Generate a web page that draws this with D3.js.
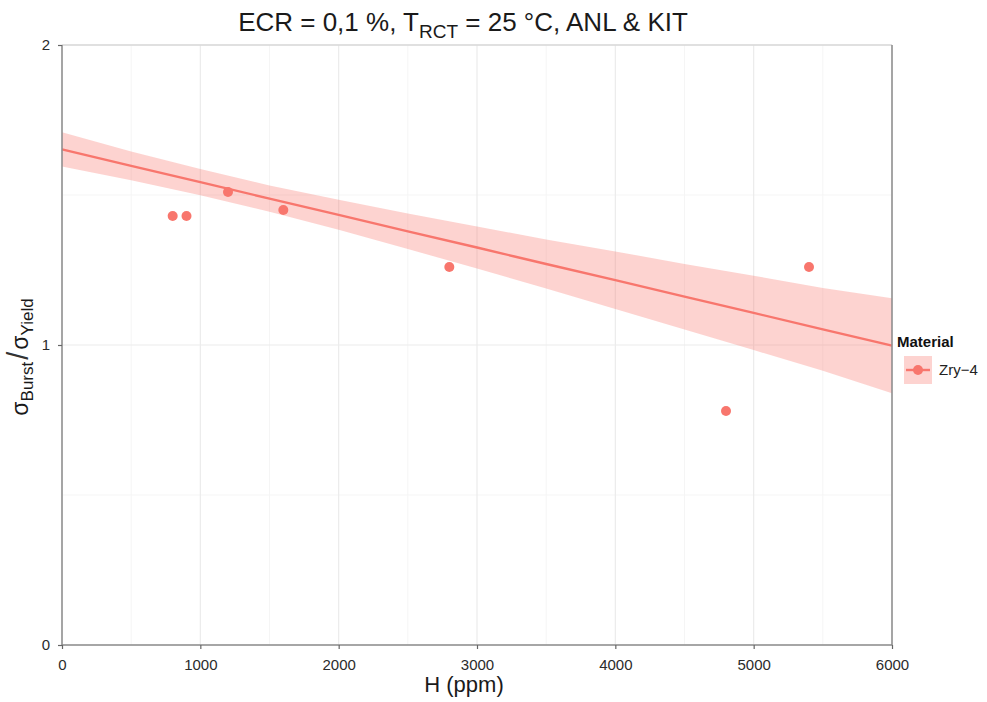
<!DOCTYPE html>
<html>
<head>
<meta charset="utf-8">
<script src="https://cdn.jsdelivr.net/npm/d3@7"></script>
<style>
  body { margin: 0; background: #fff; }
  svg { font-family: "Liberation Sans", Arial, sans-serif; }
</style>
</head>
<body>
<svg id="chart" width="987" height="702"></svg>
<script>
// measured points
const hydrogen = [800, 900, 1200, 1600, 2800, 4800, 5400];
const ratio = [1.43, 1.43, 1.51, 1.45, 1.26, 0.78, 1.26];

// smoother (fit + confidence band)
const bandX = [0, 500, 1000, 1500, 2000, 2500, 3000, 3500, 4000, 4500, 5000, 5500, 6000];
const fitY = [1.652, 1.597, 1.543, 1.488, 1.434, 1.379, 1.325, 1.270, 1.216, 1.161, 1.107, 1.052, 0.998];
const bandLow = [1.595, 1.549, 1.499, 1.444, 1.384, 1.320, 1.255, 1.188, 1.120, 1.052, 0.983, 0.914, 0.839];
const bandHigh = [1.709, 1.645, 1.587, 1.532, 1.484, 1.438, 1.395, 1.352, 1.312, 1.270, 1.231, 1.190, 1.156];

const xTicks = [0, 1000, 2000, 3000, 4000, 5000, 6000];
const xMinor = [500, 1500, 2500, 3500, 4500, 5500];
const yTicks = [0, 1, 2];
const yMinor = [0.5, 1.5];

const col = "#F8766D";
const svg = d3.select("#chart");
const pLeft = 62, pRight = 892, pTop = 45, pBottom = 645;

const x = d3.scaleLinear().domain([0, 6000]).range([pLeft, pRight]);
const y = d3.scaleLinear().domain([0, 2]).range([pBottom, pTop]);

// grid
svg.append("g").selectAll("line").data(xMinor).join("line")
  .attr("x1", d => x(d)).attr("x2", d => x(d)).attr("y1", pTop).attr("y2", pBottom)
  .attr("stroke", "#f5f5f5").attr("stroke-width", 1);
svg.append("g").selectAll("line").data(yMinor).join("line")
  .attr("y1", d => y(d)).attr("y2", d => y(d)).attr("x1", pLeft).attr("x2", pRight)
  .attr("stroke", "#f5f5f5").attr("stroke-width", 1);
svg.append("g").selectAll("line").data(xTicks).join("line")
  .attr("x1", d => x(d)).attr("x2", d => x(d)).attr("y1", pTop).attr("y2", pBottom)
  .attr("stroke", "#ebebeb").attr("stroke-width", 1.2);
svg.append("g").selectAll("line").data(yTicks).join("line")
  .attr("y1", d => y(d)).attr("y2", d => y(d)).attr("x1", pLeft).attr("x2", pRight)
  .attr("stroke", "#ebebeb").attr("stroke-width", 1.2);

// confidence band
const band = bandX.map((d, i) => ({ x: d, lo: bandLow[i], hi: bandHigh[i], fit: fitY[i] }));
svg.append("path").datum(band)
  .attr("d", d3.area().x(d => x(d.x)).y0(d => y(d.lo)).y1(d => y(d.hi)))
  .attr("fill", col).attr("fill-opacity", 0.32);
svg.append("path").datum(band)
  .attr("d", d3.line().x(d => x(d.x)).y(d => y(d.fit)))
  .attr("fill", "none").attr("stroke", col).attr("stroke-width", 2.4);

// points
svg.append("g").selectAll("circle").data(hydrogen).join("circle")
  .attr("cx", d => x(d)).attr("cy", (d, i) => y(ratio[i]))
  .attr("r", 5).attr("fill", col);

// panel border
svg.append("line").attr("x1", pLeft).attr("x2", pRight).attr("y1", pTop).attr("y2", pTop)
  .attr("stroke", "#d9d9d9").attr("stroke-width", 1.3);
svg.append("path")
  .attr("d", `M${pLeft},${pTop}V${pBottom}H${pRight}V${pTop}`)
  .attr("fill", "none").attr("stroke", "#8c8c8c").attr("stroke-width", 1.5);

// axes
const xAxis = svg.append("g").attr("transform", `translate(0,${pBottom})`)
  .call(d3.axisBottom(x).tickValues(xTicks).tickSize(4).tickPadding(10).tickFormat(d3.format("d")));
const yAxis = svg.append("g").attr("transform", `translate(${pLeft},0)`)
  .call(d3.axisLeft(y).tickValues(yTicks).tickSize(4).tickPadding(8).tickFormat(d3.format("d")));
[xAxis, yAxis].forEach(g => {
  g.select(".domain").remove();
  g.selectAll(".tick line").attr("stroke", "#666").attr("stroke-width", 1.2);
  g.selectAll(".tick text").attr("fill", "#2b2b2b").style("font-size", "15px");
});

// title
const title = svg.append("text").attr("x", 463).attr("y", 31)
  .attr("text-anchor", "middle").attr("fill", "#1a1a1a").style("font-size", "26px");
title.append("tspan").text("ECR = 0,1 %, T");
title.append("tspan").attr("dy", 7).style("font-size", "19px").text("RCT");
title.append("tspan").attr("dy", -7).text(" = 25 °C, ANL & KIT");

// x label
svg.append("text").attr("x", 464).attr("y", 692)
  .attr("text-anchor", "middle").attr("fill", "#1a1a1a").style("font-size", "22px")
  .text("H (ppm)");

// y label
const yl = svg.append("text")
  .attr("transform", `translate(28,${(pTop + pBottom) / 2 + 12}) rotate(-90)`)
  .attr("text-anchor", "middle").attr("fill", "#1a1a1a").style("font-size", "23px");
yl.append("tspan").text("σ");
yl.append("tspan").attr("dy", 5).style("font-size", "17px").text("Burst");
yl.append("tspan").attr("dy", -5).attr("dx", 2).style("font-size", "29px").attr("fill", "#333").text("/");
yl.append("tspan").attr("dx", 2).text("σ");
yl.append("tspan").attr("dy", 5).style("font-size", "17px").text("Yield");

// legend
const lg = svg.append("g").attr("transform", "translate(897,0)");
lg.append("text").attr("x", 0).attr("y", 347).attr("font-weight", "bold")
  .attr("fill", "#111").style("font-size", "15px").text("Material");
lg.append("rect").attr("x", 7).attr("y", 356).attr("width", 28).attr("height", 28)
  .attr("fill", col).attr("fill-opacity", 0.32);
lg.append("line").attr("x1", 9).attr("x2", 33).attr("y1", 370).attr("y2", 370)
  .attr("stroke", col).attr("stroke-width", 2.4);
lg.append("circle").attr("cx", 21).attr("cy", 370).attr("r", 5).attr("fill", col);
lg.append("text").attr("x", 42).attr("y", 375).attr("fill", "#222")
  .style("font-size", "15px").text("Zry−4");
</script>
</body>
</html>
